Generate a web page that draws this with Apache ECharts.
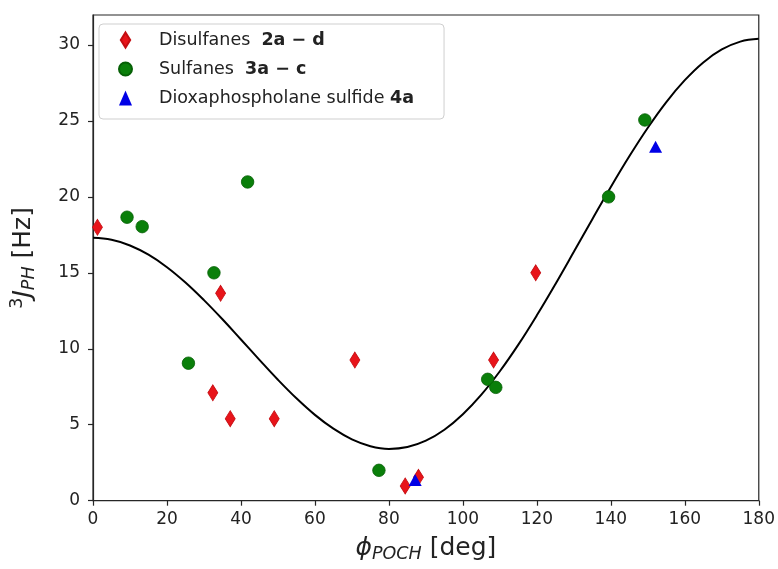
<!DOCTYPE html>
<html><head><meta charset="utf-8">
<script src="https://cdn.jsdelivr.net/npm/echarts@6/dist/echarts.min.js"></script>
<style>html,body{margin:0;padding:0;background:#fff}#c{width:778px;height:569px}</style>
</head><body><div id="c"></div>
<script>
// ---- data ----
const seriesNames = ['Disulfanes', 'Sulfanes', 'Dioxaphospholane sulfide'];
const seriesBold = ['2a \u2212 d', '3a \u2212 c', '4a'];
const disulfanes = [[1.2,18.0],[34.5,13.65],[32.4,7.1],[37.1,5.4],[49.0,5.4],[70.8,9.26],[84.4,0.97],[88.0,1.54],[108.3,9.26],[119.7,15.0]];
const sulfanes = [[9.2,18.66],[13.3,18.04],[41.8,20.98],[32.7,15.0],[25.8,9.05],[77.3,2.0],[106.7,7.99],[108.9,7.46],[139.4,20.0],[149.2,25.06]];
const dioxaphospholane = [[152.1,23.3],[87.1,1.36]];
const curveAngle = [0,5,10,15,20,25,30,35,40,45,50,55,60,65,70,75,80,85,90,95,100,105,110,115,120,125,130,135,140,145,150,155,160,165,170,175,180];
const curveJ = [17.3,17.17,16.8,16.19,15.37,14.36,13.2,11.94,10.61,9.27,7.96,6.74,5.65,4.74,4.04,3.59,3.41,3.53,3.95,4.67,5.69,6.98,8.52,10.27,12.2,14.25,16.38,18.53,20.65,22.67,24.55,26.24,27.68,28.85,29.7,30.22,30.4];
const xTicks = [0,20,40,60,80,100,120,140,160,180];
const yTicks = [0,5,10,15,20,25,30];

// ---- chart ----
const FONT = 'DejaVu Sans';
const TXT = '#222';
const chart = echarts.init(document.getElementById('c'), null, {renderer: 'canvas'});
const curveData = curveAngle.map((a, i) => [a, curveJ[i]]);

const axisCommon = {
  axisLine: {show: true, lineStyle: {color: '#262626', width: 1.2}},
  axisTick: {show: true, inside: false, length: 5, lineStyle: {color: '#262626', width: 1.2}},
  splitLine: {show: false},
};

chart.setOption({
  animation: false,
  backgroundColor: '#fff',
  grid: {left: 89.5, right: 17.3, top: 15, bottom: 68.3, show: true, borderColor: '#262626', borderWidth: 1.2, backgroundColor: 'transparent'},
  xAxis: Object.assign({}, axisCommon, {
    type: 'value', min: 0, max: 180, interval: 20,
    axisTick: Object.assign({}, axisCommon.axisTick, {customValues: xTicks}),
    axisLabel: {customValues: xTicks, fontFamily: FONT, fontSize: 17, color: TXT, margin: 10},
    name: '{phi|\u03D5}{sub|POCH}{t| [deg]}',
    nameLocation: 'middle', nameGap: 33,
    nameTextStyle: {
      rich: {
        phi: {fontFamily: FONT, fontStyle: 'italic', fontSize: 25, color: TXT},
        sub: {fontFamily: FONT, fontStyle: 'italic', fontSize: 17.5, color: TXT, padding: [12, 0, 0, 0]},
        t: {fontFamily: FONT, fontSize: 25, color: TXT}
      }
    }
  }),
  yAxis: Object.assign({}, axisCommon, {
    type: 'value', min: 0, max: 31.97,
    axisTick: Object.assign({}, axisCommon.axisTick, {customValues: yTicks}),
    axisLabel: {customValues: yTicks, fontFamily: FONT, fontSize: 17, color: TXT, margin: 13},
    name: '{sup|3}{j|J}{sub|PH}{t| [Hz]}',
    nameLocation: 'middle', nameGap: 55, nameRotate: 90,
    nameTextStyle: {
      rich: {
        sup: {fontFamily: FONT, fontSize: 17.5, color: TXT, padding: [0, 0, 12, 0]},
        j: {fontFamily: FONT, fontStyle: 'italic', fontSize: 25, color: TXT},
        sub: {fontFamily: FONT, fontStyle: 'italic', fontSize: 17.5, color: TXT, padding: [12, 0, 0, 0]},
        t: {fontFamily: FONT, fontSize: 25, color: TXT}
      }
    }
  }),
  legend: {
    orient: 'vertical', left: 99, top: 24,
    padding: [6, 30, 11, 19],
    itemGap: 9, itemWidth: 13, itemHeight: 15,
    borderColor: '#cfcfcf', borderWidth: 1, borderRadius: 4,
    backgroundColor: 'rgba(255,255,255,0.85)',
    data: [
      {name: seriesNames[0], icon: 'path://M5,0L10,8L5,16L0,8Z'},
      {name: seriesNames[1], icon: 'circle'},
      {name: seriesNames[2], icon: 'triangle'}
    ],
    formatter: function (name) {
      const i = seriesNames.indexOf(name);
      return '{sp| }{n|' + name + (i < 2 ? '  ' : ' ') + '}{b|' + seriesBold[i] + '}';
    },
    textStyle: {
      lineHeight: 20,
      rich: {
        sp: {width: 22, fontSize: 17.5, fontFamily: FONT},
        n: {fontFamily: FONT, fontSize: 17.5, color: TXT, lineHeight: 20},
        b: {fontFamily: FONT, fontSize: 17.5, fontWeight: 'bold', color: TXT, lineHeight: 20}
      }
    }
  },
  series: [
    {
      name: 'fit', type: 'line', data: curveData, smooth: 0.4, showSymbol: false, silent: true,
      lineStyle: {color: '#000', width: 2}, z: 1
    },
    {
      name: seriesNames[0], type: 'scatter', data: disulfanes, symbol: 'diamond', symbolSize: [10, 16],
      itemStyle: {color: '#e8141a', borderColor: '#c40d12', borderWidth: 0.8, opacity: 1}, z: 3
    },
    {
      name: seriesNames[1], type: 'scatter', data: sulfanes, symbol: 'circle', symbolSize: 12.5,
      itemStyle: {color: '#0a7f0a', borderColor: '#066006', borderWidth: 0.8, opacity: 1}, z: 3
    },
    {
      name: seriesNames[2], type: 'scatter', data: dioxaphospholane, symbol: 'triangle', symbolSize: [13, 12],
      itemStyle: {color: '#0000e6', opacity: 1}, z: 4
    }
  ]
});
</script>
</body></html>
